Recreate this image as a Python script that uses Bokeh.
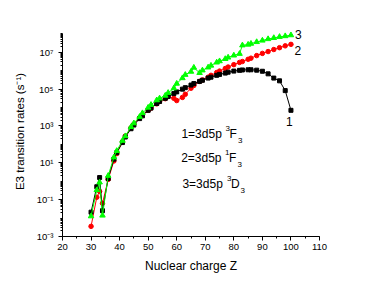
from bokeh.plotting import figure
from bokeh.models import SingleIntervalTicker, FixedTicker, CustomJSTickFormatter, Label
from bokeh.embed import file_html
from bokeh.resources import INLINE

# ---- data ----
Z = [30, 32, 33, 34, 36, 38, 39, 41, 42, 44, 45, 47, 48, 50, 51, 53, 54, 56, 57, 59,
     60, 62, 63, 65, 66, 68, 69, 71, 72, 74, 75, 77, 78, 80, 82, 83, 85, 86, 88, 90,
     92, 94, 96, 98, 100]

# log10 of the E3 transition rate (s^-1)
log_rate_1 = [-1.68, -0.30, 0.20, -1.60, 0.15, 1.20, 1.55, 2.10, 2.40, 2.85, 3.05, 3.40,
              3.55, 3.85, 3.97, 4.22, 4.33, 4.50, 4.60, 4.76, 4.85, 5.00, 5.08, 5.22,
              5.30, 5.42, 5.48, 5.60, 5.65, 5.75, 5.80, 5.87, 5.92, 5.98, 6.02, 6.04,
              6.05, 6.05, 6.03, 5.97, 5.83, 5.60, 5.45, 4.92, 3.85]
log_rate_2 = [-2.45, -0.87, -0.55, -1.20, 0.10, 1.10, 1.50, 2.15, 2.45, 2.90, 3.10, 3.45,
              3.60, 3.85, 3.97, 4.20, 4.33, 4.48, 4.60, 4.50, 4.38, 4.55, 4.72, 5.05,
              5.20, 5.42, 5.50, 5.65, 5.75, 5.90, 5.98, 6.12, 6.20, 6.33, 6.45, 6.50,
              6.62, 6.68, 6.82, 6.94, 7.04, 7.15, 7.25, 7.35, 7.43]
log_rate_3 = [-1.90, -0.48, -0.06, -1.86, 0.30, 1.30, 1.65, 2.20, 2.45, 2.95, 3.15, 3.50,
              3.70, 4.00, 4.15, 4.40, 4.50, 4.65, 4.80, 5.05, 5.30, 5.60, 5.78, 5.95,
              6.17, 5.88, 6.02, 6.18, 6.28, 6.45, 6.52, 6.64, 6.72, 6.83, 6.92, 7.38,
              7.42, 7.47, 7.56, 7.64, 7.72, 7.78, 7.84, 7.88, 7.93]

y_tick_values = [1e-3, 1e-1, 1e1, 1e3, 1e5, 1e7]
y_tick_labels = ["10\u207b\u00b3", "10\u207b\u00b9", "10\u00b9", "10\u00b3", "10\u2075", "10\u2077"]
x_tick_interval = 10

series_labels = ["1", "2", "3"]
FONT = "Liberation Sans"

rate_1 = [10 ** v for v in log_rate_1]
rate_2 = [10 ** v for v in log_rate_2]
rate_3 = [10 ** v for v in log_rate_3]

p = figure(width=364, height=278, y_axis_type="log",
           x_range=(20, 110), y_range=(1e-3, 10 ** 8.4),
           output_backend="svg", toolbar_location=None,
           min_border_left=62, min_border_right=45,
           min_border_top=26, min_border_bottom=42)
p.outline_line_color = None
p.xgrid.visible = False
p.ygrid.visible = False
p.background_fill_color = "white"
p.border_fill_color = "white"

# series: red, black, green
p.line(Z, rate_2, line_color="#ff0000", line_width=1)
p.scatter(Z, rate_2, marker="circle", size=4.5, fill_color="#ff0000", line_color="#ff0000")
p.line(Z, rate_1, line_color="#000000", line_width=1)
p.scatter(Z, rate_1, marker="square", size=4, fill_color="#000000", line_color="#000000")
p.line(Z, rate_3, line_color="#00ff00", line_width=1)
p.scatter(Z, rate_3, marker="triangle", size=5.5, fill_color="#00ff00", line_color="#00ff00")

# axes
xa = p.xaxis[0]
xa.ticker = SingleIntervalTicker(interval=x_tick_interval, num_minor_ticks=2)
ya = p.yaxis[0]
ya.bounds = (1e-3, 1e8)
minor = []
for e in range(-3, 8):
    for m in range(1, 10):
        v = m * 10.0 ** e
        if v not in y_tick_values:
            minor.append(v)
minor.append(1e8)
ya.ticker = FixedTicker(ticks=y_tick_values, minor_ticks=minor)
ya.formatter = CustomJSTickFormatter(args=dict(vals=y_tick_values, labels=y_tick_labels), code="""
let best = 0, bd = Infinity;
for (let i = 0; i < vals.length; i++) {
  const d = Math.abs(Math.log10(vals[i]) - Math.log10(tick));
  if (d < bd) { bd = d; best = i; }
}
return labels[best];
""")

for ax in (xa, ya):
    ax.axis_line_color = "black"
    ax.axis_line_width = 1
    ax.major_tick_line_color = "black"
    ax.minor_tick_line_color = "black"
    ax.major_tick_out = 4
    ax.major_tick_in = 0
    ax.minor_tick_out = 2
    ax.minor_tick_in = 0
    ax.major_label_text_font = FONT
    ax.major_label_text_font_size = "9.5px"
    ax.major_label_text_color = "black"
    ax.axis_label_text_font = FONT
    ax.axis_label_text_font_style = "normal"
    ax.axis_label_text_color = "black"

xa.axis_label = "Nuclear charge Z"
xa.axis_label_text_font_size = "12px"
xa.major_label_standoff = 3
xa.axis_label_standoff = 6
ya.axis_label = "E3 transition rates (s\u207b\u00b9)"
ya.axis_label_text_font_size = "11.5px"
ya.major_label_standoff = 5
ya.axis_label_standoff = 8

# curve numbers
for txt, x, ly in zip(series_labels, [99.45, 102.4, 102.6], [3.22, 7.08, 7.99]):
    p.add_layout(Label(x=x, y=10 ** ly, text=txt, text_font=FONT, text_font_size="12px",
                       text_align="center", text_baseline="middle", text_color="black"))

# state annotations: (text, x, log10 y, size)
notes = [
    ("1=3d5p", 61.65, 2.551, "12px"), ("3", 77.05, 2.849, "8px"), ("F", 78.45, 2.551, "12px"), ("3", 81.43, 2.227, "8px"),
    ("2=3d5p", 61.55, 1.254, "12px"), ("1", 76.88, 1.551, "8px"), ("F", 78.28, 1.254, "12px"), ("3", 81.25, 0.930, "8px"),
    ("3=3d5p", 62.0, -0.151, "12px"), ("3", 77.58, 0.146, "8px"), ("D", 78.98, -0.151, "12px"), ("3", 82.3, -0.476, "8px"),
]
for txt, x, ly, fs in notes:
    p.add_layout(Label(x=x, y=10 ** ly, text=txt, text_font=FONT, text_font_size=fs,
                       text_align="left", text_baseline="middle", text_color="black"))

open("out.html", "w").write(file_html(p, INLINE))
